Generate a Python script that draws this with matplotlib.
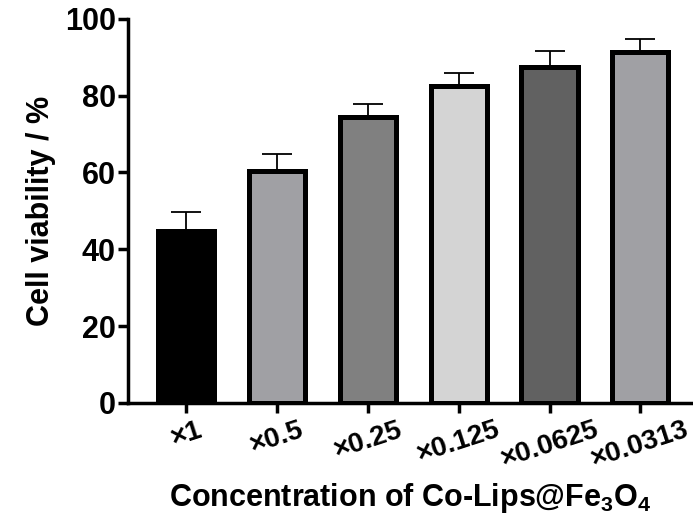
import matplotlib
matplotlib.use('Agg')
import matplotlib.pyplot as plt

# data
labels = ['×1', '×0.5', '×0.25', '×0.125', '×0.0625', '×0.0313']
viability = [44.8, 60.4, 74.5, 82.5, 87.5, 91.4]
err = [4.9, 4.4, 3.4, 3.5, 4.2, 3.4]
colors = ['#000000', '#a0a0a4', '#808080', '#d4d4d4', '#616161', '#a0a0a4']

plt.rcParams['font.family'] = ['Liberation Sans', 'DejaVu Sans']
plt.rcParams['font.weight'] = 'bold'
plt.rcParams['mathtext.default'] = 'bf'
plt.rcParams['mathtext.fontset'] = 'custom'
plt.rcParams['mathtext.bf'] = 'Liberation Sans:bold'

fig = plt.figure(figsize=(6.93, 5.22), dpi=100)
ax = fig.add_axes([0.185, 0.228, 0.815, 0.736])

x = list(range(len(labels)))
ax.bar(x, viability, width=0.62, color=colors, edgecolor='black', linewidth=3.6, zorder=2)
ax.errorbar(x, viability, yerr=[[0]*len(err), err], fmt='none', ecolor='black',
            elinewidth=1.3, capsize=11, capthick=1.3, zorder=1)

ax.set_ylim(0, 100)
ax.set_xlim(-0.64, 5.58)
ax.set_yticks([0, 20, 40, 60, 80, 100])
ax.set_xticks(x)
ax.set_xticklabels(labels, rotation=18, ha='center', fontsize=20)
ax.tick_params(axis='y', labelsize=22, width=2.5, length=7, direction='out', pad=2)
ax.tick_params(axis='x', width=2.5, length=7, direction='out', pad=3)

for s in ['top', 'right']:
    ax.spines[s].set_visible(False)
for s in ['left', 'bottom']:
    ax.spines[s].set_linewidth(2.5)

ax.set_ylabel('Cell viability / %', fontsize=22, fontweight='bold', labelpad=6)
ax.set_xlabel('Concentration of Co-Lips@Fe$_3$O$_4$', fontsize=22,
              fontweight='bold', labelpad=6)

fig.savefig('out.png', dpi=100)
